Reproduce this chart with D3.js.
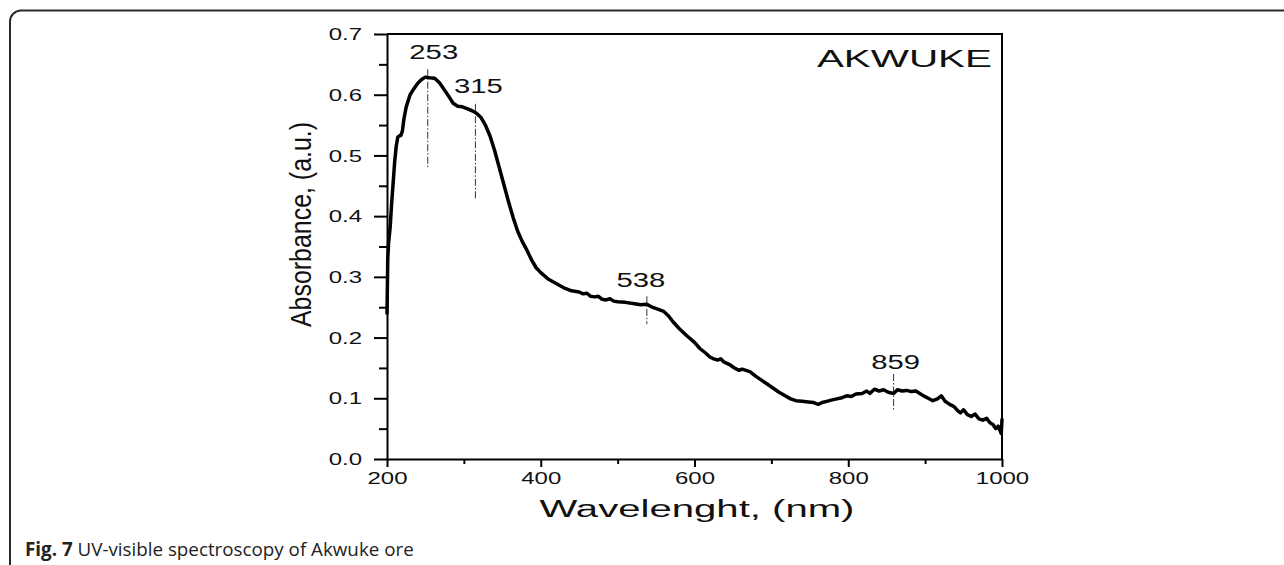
<!DOCTYPE html>
<html>
<head>
<meta charset="utf-8">
<script src="https://cdn.jsdelivr.net/npm/d3@7/dist/d3.min.js"></script>
<style>
  html, body { margin: 0; padding: 0; background: #fff; }
  svg { display: block; }
</style>
</head>
<body>
<svg id="chart" width="1284" height="565"></svg>
<script>
// ---- data ----
const wavelength = [200,201,202,204,206,208,210,212,214,216,218,220,222,225,230,235,240,245,250,255,262,268,273,280,286,292,298,304,310,316,322,328,334,340,346,352,358,364,370,376,382,388,394,400,410,420,430,440,450,455,460,465,470,475,480,485,490,495,500,510,520,530,538,545,552,560,566,572,580,590,600,607,614,620,625,630,634,638,645,652,658,662,667,672,680,688,695,702,710,718,725,732,740,748,755,761,766,772,778,785,792,798,804,810,818,824,828,834,840,846,852,859,864,870,876,882,888,893,898,904,910,916,921,926,932,938,942,946,950,955,960,965,970,975,980,984,988,992,995,998,999,1000];
const absorbance = [0.240,0.330,0.355,0.380,0.420,0.455,0.490,0.515,0.530,0.532,0.533,0.540,0.560,0.580,0.600,0.610,0.619,0.625,0.629,0.628,0.627,0.620,0.611,0.598,0.586,0.581,0.580,0.577,0.574,0.570,0.563,0.550,0.532,0.508,0.480,0.452,0.424,0.398,0.375,0.358,0.344,0.328,0.315,0.307,0.296,0.289,0.282,0.277,0.275,0.272,0.273,0.268,0.267,0.268,0.263,0.262,0.264,0.260,0.259,0.258,0.256,0.254,0.255,0.250,0.247,0.243,0.236,0.226,0.215,0.203,0.192,0.182,0.175,0.168,0.165,0.163,0.165,0.160,0.156,0.150,0.146,0.148,0.146,0.144,0.136,0.129,0.123,0.117,0.110,0.104,0.099,0.096,0.095,0.094,0.093,0.090,0.093,0.095,0.097,0.099,0.101,0.104,0.103,0.107,0.108,0.112,0.108,0.115,0.112,0.114,0.110,0.108,0.114,0.112,0.113,0.111,0.112,0.108,0.104,0.100,0.096,0.099,0.104,0.095,0.090,0.086,0.080,0.076,0.081,0.073,0.070,0.074,0.066,0.064,0.067,0.060,0.057,0.050,0.054,0.045,0.042,0.065];

const xTicks = [200, 400, 600, 800, 1000];
const xMinorTicks = [300, 500, 700, 900];
const yTicks = [0.0, 0.1, 0.2, 0.3, 0.4, 0.5, 0.6, 0.7];
const yMinorTicks = [0.05, 0.15, 0.25, 0.35, 0.45, 0.55, 0.65];

const peakLabels = ["253", "315", "538", "859"];
const peakPositions = [253, 315, 538, 859];
const peakLineTop = [0.642, 0.585, 0.268, 0.140];
const peakLineBottom = [0.480, 0.428, 0.222, 0.081];

const sampleName = "AKWUKE";
const xTitle = "Wavelenght, (nm)";
const yTitle = "Absorbance, (a.u.)";
const captionBold = "Fig. 7";
const captionText = " UV-visible spectroscopy of Akwuke ore";

// ---- layout ----
const svg = d3.select("#chart");
const pLeft = 387, pRight = 1002, pTop = 34, pBottom = 459;
const x = d3.scaleLinear().domain([200, 1000]).range([pLeft, pRight]);
const y = d3.scaleLinear().domain([0, 0.7]).range([pBottom, pTop]);
const stretch = 1.5;

// outer rounded border
svg.append("rect")
  .attr("x", 10).attr("y", 10.5)
  .attr("width", 1400).attr("height", 700)
  .attr("rx", 11).attr("ry", 11)
  .attr("fill", "none").attr("stroke", "#2a2a2a").attr("stroke-width", 2);

// frame top/right
svg.append("path")
  .attr("d", `M${pLeft},${pTop}H${pRight}V${pBottom}`)
  .attr("fill", "none").attr("stroke", "#000").attr("stroke-width", 2);

// bottom axis
const gx = svg.append("g").attr("transform", `translate(0,${pBottom})`)
  .call(d3.axisBottom(x).tickValues(xTicks).tickSize(8).tickSizeOuter(0).tickFormat(d3.format("d")));
gx.select(".domain").attr("stroke", "#000").attr("stroke-width", 2);
gx.selectAll(".tick line").attr("stroke", "#000").attr("stroke-width", 2);
gx.selectAll(".tick text")
  .attr("y", 0).attr("dy", null)
  .attr("transform", `translate(0,24.5) scale(${stretch},1)`)
  .attr("font-family", "'Liberation Sans', Arial, sans-serif")
  .attr("font-size", 16).attr("fill", "#111");
const gxm = svg.append("g").attr("transform", `translate(0,${pBottom})`)
  .call(d3.axisBottom(x).tickValues(xMinorTicks).tickSize(5).tickSizeOuter(0).tickFormat(""));
gxm.select(".domain").remove();
gxm.selectAll(".tick line").attr("stroke", "#000").attr("stroke-width", 2);

// left axis
const gy = svg.append("g").attr("transform", `translate(${pLeft},0)`)
  .call(d3.axisLeft(y).tickValues(yTicks).tickSize(13).tickSizeOuter(0).tickFormat(d3.format(".1f")));
gy.select(".domain").attr("stroke", "#000").attr("stroke-width", 2);
gy.selectAll(".tick line").attr("stroke", "#000").attr("stroke-width", 2);
gy.selectAll(".tick text")
  .attr("x", 0).attr("dy", null).attr("y", 5.6)
  .attr("text-anchor", "end")
  .attr("transform", `translate(-25,0) scale(${stretch},1)`)
  .attr("font-family", "'Liberation Sans', Arial, sans-serif")
  .attr("font-size", 16).attr("fill", "#111");
const gym = svg.append("g").attr("transform", `translate(${pLeft},0)`)
  .call(d3.axisLeft(y).tickValues(yMinorTicks).tickSize(8).tickSizeOuter(0).tickFormat(""));
gym.select(".domain").remove();
gym.selectAll(".tick line").attr("stroke", "#000").attr("stroke-width", 2);

// peak marker lines
const pts = peakPositions.map((p, i) => ({p, t: peakLineTop[i], b: peakLineBottom[i], label: peakLabels[i]}));
svg.append("g").selectAll("line").data(pts).join("line")
  .attr("x1", d => x(d.p)).attr("x2", d => x(d.p))
  .attr("y1", d => y(d.t)).attr("y2", d => y(d.b))
  .attr("stroke", "#333").attr("stroke-width", 1)
  .attr("stroke-dasharray", "7,2,1.5,2");

// spectrum
const data = wavelength.map((w, i) => [w, absorbance[i]]);
svg.append("path")
  .datum(data)
  .attr("d", d3.line().x(d => x(d[0])).y(d => y(d[1])))
  .attr("fill", "none").attr("stroke", "#000")
  .attr("stroke-width", 3.5).attr("stroke-linejoin", "round").attr("stroke-linecap", "round");

// peak labels
const labelDx = [6, 3, -6, 2];
const labelBase = [59, 93, 287, 369];
svg.append("g").selectAll("text").data(pts).join("text")
  .attr("text-anchor", "middle")
  .attr("transform", (d, i) => `translate(${x(d.p) + labelDx[i]},${labelBase[i]}) scale(${stretch},1)`)
  .attr("font-family", "'Liberation Sans', Arial, sans-serif")
  .attr("font-size", 19.5).attr("fill", "#111")
  .text(d => d.label);

// sample name
svg.append("text")
  .attr("text-anchor", "end")
  .attr("transform", `translate(992,67) scale(1.72,1)`)
  .attr("font-family", "'Liberation Sans', Arial, sans-serif")
  .attr("font-size", 23.5).attr("fill", "#111")
  .text(sampleName);

// axis titles
svg.append("text")
  .attr("x", 697).attr("y", 517)
  .attr("text-anchor", "middle")
  .attr("textLength", 315).attr("lengthAdjust", "spacingAndGlyphs")
  .attr("font-family", "'Liberation Sans', Arial, sans-serif")
  .attr("font-size", 23.5).attr("fill", "#111")
  .text(xTitle);

svg.append("text")
  .attr("transform", "translate(311,224.5) rotate(-90)")
  .attr("text-anchor", "middle")
  .attr("textLength", 205).attr("lengthAdjust", "spacingAndGlyphs")
  .attr("font-family", "'Liberation Sans Narrow', 'Liberation Sans', Arial, sans-serif")
  .attr("font-size", 29).attr("fill", "#111")
  .text(yTitle);

// caption
const cap = svg.append("text")
  .attr("x", 25).attr("y", 556)
  .attr("font-family", "'Open Sans', 'Noto Sans', sans-serif")
  .attr("font-size", 18.8).attr("fill", "#222");
cap.append("tspan").attr("font-weight", "bold").text(captionBold);
cap.append("tspan").text(captionText);
</script>
</body>
</html>
